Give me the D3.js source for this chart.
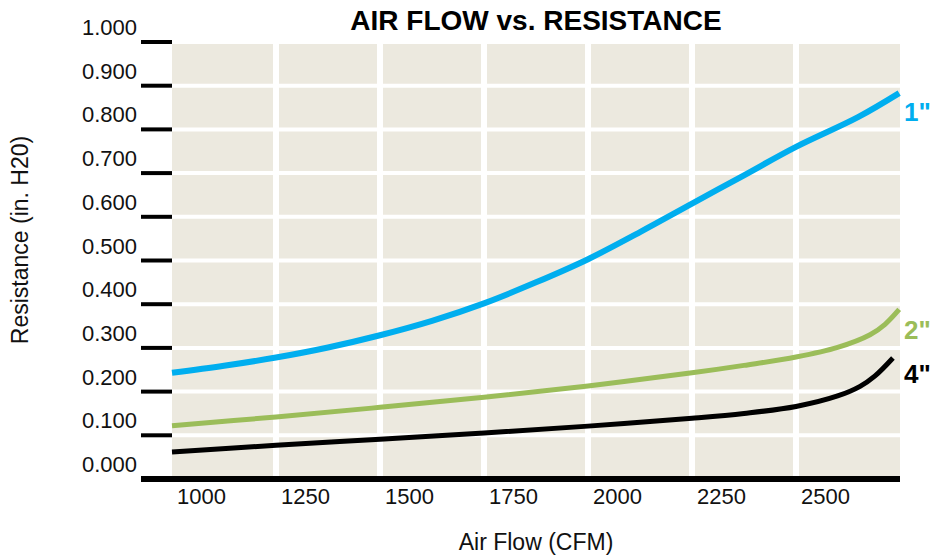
<!DOCTYPE html>
<html>
<head>
	<title>Air Flow vs. Resistance</title>
	<meta charset="utf-8">
	<style>
		body { margin: 0; background: #fff; }
		svg { display: block; font-family: "Liberation Sans", Arial, Helvetica, sans-serif; }
		.plot-bg { fill: rgb(236, 233, 223); }
		.grid-h line { stroke: #fff; stroke-width: 4; }
		.grid-v line { stroke: #fff; stroke-width: 6; }
		.tick-y line { stroke: #000; stroke-width: 4; }
		.axis-base { stroke: #000; stroke-width: 6; }
		.tick-label { font-size: 22px; fill: #111; }
		.title { font-size: 28px; font-weight: bold; fill: #000; }
		.axis-title { font-size: 23px; fill: #111; }
		.curve { fill: none; stroke-linejoin: round; }
		.series-label { font-size: 26px; font-weight: bold; }
	</style>
</head>
<body>
	<div class="chart"></div>

	<script src="https://d3js.org/d3.v7.min.js"></script>
	<script>
		// Chart box
		var width = 931, height = 557;
		var margin = { top: 42, right: 31, bottom: 78, left: 172 };

		// Data
		var flow1 = [1000, 1125, 1250, 1375, 1500, 1625, 1750, 1875, 2000, 2125, 2250, 2375, 2500, 2649, 2748];
		var res1 = [0.243, 0.259, 0.278, 0.301, 0.329, 0.362, 0.402, 0.450, 0.503, 0.565, 0.630, 0.695, 0.760, 0.828, 0.883];

		var flow2 = [1000, 1250, 1500, 1750, 2000, 2250, 2375, 2500, 2600, 2678, 2714, 2748];
		var res2 = [0.122, 0.142, 0.164, 0.187, 0.213, 0.243, 0.260, 0.279, 0.301, 0.330, 0.354, 0.388];

		var flow4 = [1000, 1250, 1500, 1750, 2000, 2250, 2375, 2500, 2600, 2654, 2690, 2733];
		var res4 = [0.062, 0.077, 0.091, 0.105, 0.121, 0.139, 0.150, 0.166, 0.190, 0.212, 0.236, 0.277];

		var xTicks = [1000, 1250, 1500, 1750, 2000, 2250, 2500];
		var yTicks = [0, 0.1, 0.2, 0.3, 0.4, 0.5, 0.6, 0.7, 0.8, 0.9, 1.0];
		var seriesNames = ['1"', '2"', '4"'];
		var seriesColors = ["rgb(0, 174, 239)", "rgb(155, 189, 89)", "#000"];
		var seriesWidths = [6, 5, 5];

		var series = [
			flow1.map(function(d, i) { return [d, res1[i]]; }),
			flow2.map(function(d, i) { return [d, res2[i]]; }),
			flow4.map(function(d, i) { return [d, res4[i]]; })
		];

		var svg = d3.select(".chart")
			.append("svg")
			.attr("width", width)
			.attr("height", height);

		// Scales
		var x = d3.scaleLinear()
			.domain([1000, 2750])
			.range([margin.left, width - margin.right]);

		var y = d3.scaleLinear()
			.domain([0, 1])
			.range([height - margin.bottom, margin.top]);

		// Background
		svg.append("rect")
			.attr("class", "plot-bg")
			.attr("x", x(1000))
			.attr("y", y(1))
			.attr("width", x(2750) - x(1000))
			.attr("height", y(0) - y(1));

		// White grid
		svg.append("g").attr("class", "grid-h")
			.selectAll("line")
			.data(yTicks.slice(1))
			.enter().append("line")
			.attr("x1", x(1000)).attr("x2", x(2750))
			.attr("y1", function(d) { return y(d); })
			.attr("y2", function(d) { return y(d); });

		svg.append("g").attr("class", "grid-v")
			.selectAll("line")
			.data(xTicks.slice(1))
			.enter().append("line")
			.attr("x1", function(d) { return x(d); })
			.attr("x2", function(d) { return x(d); })
			.attr("y1", y(1)).attr("y2", y(0));

		// Y ticks + labels (labels sit above the tick)
		svg.append("g").attr("class", "tick-y")
			.selectAll("line")
			.data(yTicks.slice(1))
			.enter().append("line")
			.attr("x1", margin.left - 31).attr("x2", margin.left)
			.attr("y1", function(d) { return y(d); })
			.attr("y2", function(d) { return y(d); });

		svg.append("g")
			.selectAll("text")
			.data(yTicks)
			.enter().append("text")
			.attr("class", "tick-label")
			.attr("x", margin.left - 35)
			.attr("y", function(d) { return y(d) - 7; })
			.attr("text-anchor", "end")
			.text(function(d) { return d3.format(".3f")(d); });

		// Base axis line
		svg.append("line")
			.attr("class", "axis-base")
			.attr("x1", margin.left - 31).attr("x2", x(2750))
			.attr("y1", y(0)).attr("y2", y(0));

		// X tick labels (to the right of each gridline)
		svg.append("g")
			.selectAll("text")
			.data(xTicks)
			.enter().append("text")
			.attr("class", "tick-label")
			.attr("x", function(d) { return x(d) + 5; })
			.attr("y", y(0) + 25)
			.text(function(d) { return d; });

		// Curves
		var line = d3.line()
			.x(function(d) { return x(d[0]); })
			.y(function(d) { return y(d[1]); })
			.curve(d3.curveCatmullRom.alpha(0.5));

		svg.selectAll(".curve")
			.data(series)
			.enter().append("path")
			.attr("class", "curve")
			.attr("stroke", function(d, i) { return seriesColors[i]; })
			.attr("stroke-width", function(d, i) { return seriesWidths[i]; })
			.attr("d", line);

		// End labels
		var labelDy = [28, 30, 25];
		svg.selectAll(".series-label")
			.data(series)
			.enter().append("text")
			.attr("class", "series-label")
			.attr("fill", function(d, i) { return seriesColors[i]; })
			.attr("x", 904)
			.attr("y", function(d, i) { return y(d[d.length - 1][1]) + labelDy[i]; })
			.text(function(d, i) { return seriesNames[i]; });

		// Titles
		svg.append("text")
			.attr("class", "title")
			.attr("x", (x(1000) + x(2750)) / 2)
			.attr("y", 30)
			.attr("text-anchor", "middle")
			.text("AIR FLOW vs. RESISTANCE");

		svg.append("text")
			.attr("class", "axis-title")
			.attr("x", (x(1000) + x(2750)) / 2)
			.attr("y", 550)
			.attr("text-anchor", "middle")
			.text("Air Flow (CFM)");

		svg.append("text")
			.attr("class", "axis-title")
			.attr("transform", "translate(28," + 240 + ") rotate(-90)")
			.attr("text-anchor", "middle")
			.text("Resistance (in. H20)");
	</script>
</body>
</html>
